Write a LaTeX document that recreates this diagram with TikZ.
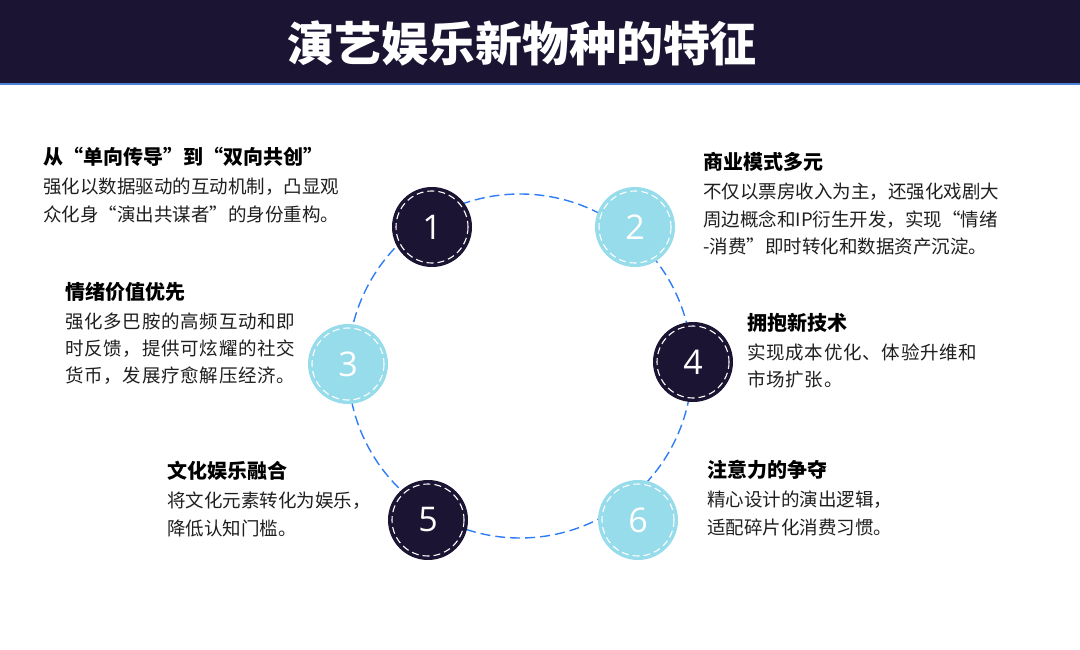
\documentclass[tikz,border=0pt]{standalone}
\usepackage{fontspec}
\setmainfont{Noto Sans CJK SC}
\newfontfamily\numfont{Open Sans}
\usetikzlibrary{positioning}
\definecolor{cnavy}{HTML}{1B1433}
\definecolor{ccyan}{HTML}{97DCEB}
\definecolor{cring}{HTML}{2F7DF6}
\definecolor{crule}{HTML}{4A80D8}
\definecolor{ctext}{HTML}{1F1F1F}
\tikzset{
  head/.style={font=\fontsize{20}{24}\selectfont\bfseries, text=black, inner sep=0pt, anchor=base west},
  body/.style={font=\fontsize{18.5}{27.5}\selectfont, text=ctext, align=left, inner sep=0pt},
  bodywide/.style={body, font=\fontsize{18.5}{27}\selectfont\addfontfeatures{LetterSpace=4}},
  num/.style={circle, fill=#1, minimum size=80pt, inner sep=0pt, text=white, font=\numfont\fontsize{34}{34}\selectfont},
  inner ring/.style={draw=white, line width=1.1pt, dash pattern=on 7pt off 4pt},
  ring/.style={draw=cring, line width=1.4pt, dash pattern=on 10pt off 5pt},
}
\begin{document}
\begin{tikzpicture}[x=1pt, y=-1pt]
  \useasboundingbox[fill=white] (0,0) rectangle (1080,650);
  % title bar
  \fill[cnavy] (0,0) rectangle (1080,84);
  \draw[crule, line width=2pt] (0,84) -- (1080,84);
  \node[text=white, font=\fontsize{47}{47}\selectfont\bfseries] (title) at (522,44) {演艺娱乐新物种的特征};
  % dashed ring and numbered circles
  \draw[ring] (520,366) circle[radius=172];
  \foreach \n/\px/\py/\col in {1/432/227/cnavy, 2/635/227/ccyan, 3/348/364/ccyan,
                               4/693/362/cnavy, 5/428/520/cnavy, 6/638/520/ccyan} {
    \node[num=\col] (c\n) at (\px,\py) {\n};
    \draw[inner ring] (c\n.center) circle[radius=36];
  }
  % left column
  \node[head] (t1) at (43,164.6) {从“单向传导”到“双向共创”};
  \node[body, below right=11pt and 0pt of t1.south west] (b1) {强化以数据驱动的互动机制，凸显观\\众化身“演出共谋者”的身份重构。};
  \node[head] (t3) at (65,299.6) {情绪价值优先};
  \node[bodywide, below right=11pt and 0pt of t3.south west] (b3) {强化多巴胺的高频互动和即\\时反馈，提供可炫耀的社交\\货币，发展疗愈解压经济。};
  \node[head] (t5) at (167,478.6) {文化娱乐融合};
  \node[body, below right=11pt and 0pt of t5.south west] (b5) {将文化元素转化为娱乐，\\降低认知门槛。};
  % right column
  \node[head] (t2) at (703,169.6) {商业模式多元};
  \node[body, below right=11pt and 0pt of t2.south west] (b2) {不仅以票房收入为主，还强化戏剧大\\周边概念和IP衍生开发，实现“情绪\\-消费”即时转化和数据资产沉淀。};
  \node[head] (t4) at (747,330.6) {拥抱新技术};
  \node[bodywide, below right=11pt and 0pt of t4.south west] (b4) {实现成本优化、体验升维和\\市场扩张。};
  \node[head] (t6) at (707,477.6) {注意力的争夺};
  \node[body, below right=11pt and 0pt of t6.south west] (b6) {精心设计的演出逻辑，\\适配碎片化消费习惯。};
\end{tikzpicture}
\end{document}
